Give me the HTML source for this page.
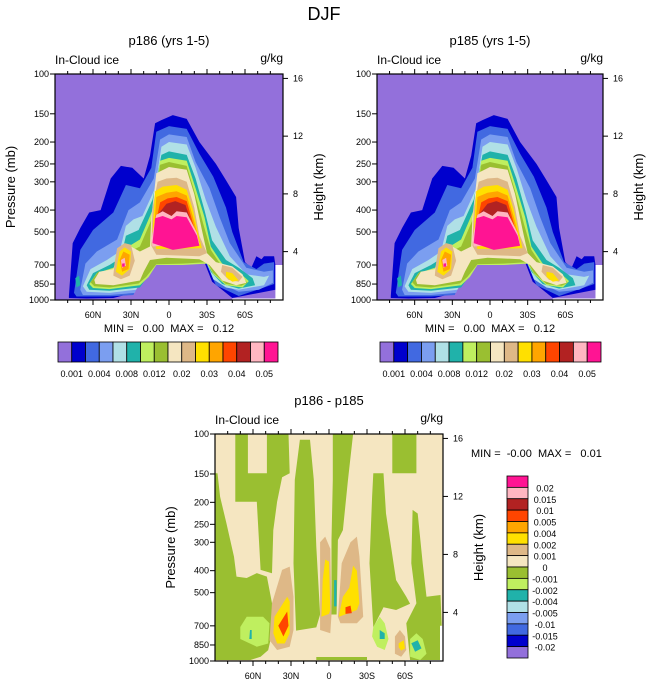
<!DOCTYPE html>
<html><head><meta charset="utf-8"><style>
html,body{margin:0;padding:0;background:#fff}
svg{display:block;font-family:"Liberation Sans",sans-serif}
.pre{white-space:pre}
</style></head><body>
<svg id="fig" width="648" height="685" viewBox="0 0 648 685" xmlns="http://www.w3.org/2000/svg">
<text x="324" y="20" font-size="18" text-anchor="middle">DJF</text>
</svg>
<script>
// ---------- data ----------
const pressureTicks = [100,150,200,250,300,400,500,700,850,1000];
const latTicks = [60,30,0,-30,-60];
const latTickLabels = ['60N','30N','0','30S','60S'];
const heightTicks = [4,8,12,16];
const meanLevels = ['0.001','0.002','0.004','0.006','0.008','0.01','0.012','0.015','0.02','0.025','0.03','0.035','0.04','0.045','0.05'];
const meanColors = ['#9370DB','#0000CD','#4169E1','#7B9EF0','#B0E0E6','#20B2AA','#BFEF5F','#9ABF31','#F5E6C1','#DEB887','#FFE000','#FFA500','#FF4500','#B22222','#FFB6C1','#FF1493'];
const diffLabels = ['0.02','0.015','0.01','0.005','0.004','0.002','0.001','0','-0.001','-0.002','-0.004','-0.005','-0.01','-0.015','-0.02'];
const diffColors = ['#FF1493','#FFB6C1','#B22222','#FF4500','#FFA500','#FFE000','#DEB887','#F5E6C1','#9ABF31','#BFEF5F','#20B2AA','#B0E0E6','#7B9EF0','#4169E1','#0000CD','#9370DB'];

// mean-field contour polygons [lat, pressure], index = colour index
const L1 = [[79,980],[79,960],[76,560],[70,480],[63,410],[54,400],[46,290],[38,255],[29,260],[20,290],[15,230],[11,165],[6,160],[-3,152],[-14,158],[-24,200],[-37,250],[-45,295],[-53,350],[-55,480],[-60,680],[-65,720],[-69,640],[-73,660],[-75,640],[-83,640],[-84,700],[-84,900],[-50,980],[-34,830],[-27,660],[-11,650],[10,650],[18,720],[28,930],[44,980],[65,985]];
const L2 = [[75,930],[70,600],[60,490],[44,410],[34,310],[23,320],[14,260],[10,180],[0,170],[-14,175],[-24,225],[-35,285],[-45,390],[-50,500],[-59,680],[-69,730],[-75,690],[-83,680],[-83,850],[-75,880],[-55,960],[-37,860],[-29,680],[-11,665],[10,665],[21,740],[28,950],[47,965],[73,965]];
const L3 = [[70,900],[66,690],[57,610],[41,540],[32,400],[23,370],[12,290],[7,195],[0,185],[-14,190],[-21,245],[-32,320],[-40,430],[-48,560],[-61,720],[-75,750],[-82,740],[-82,840],[-71,900],[-55,920],[-40,840],[-30,690],[-11,680],[10,680],[20,750],[27,930],[47,950],[68,950]];
const L4 = [[68,870],[62,730],[49,665],[39,610],[34,470],[28,440],[21,425],[11,320],[6,210],[0,200],[-14,205],[-21,260],[-29,360],[-37,475],[-48,640],[-61,770],[-75,790],[-79,780],[-75,860],[-55,900],[-45,880],[-35,810],[-30,690],[-11,685],[10,685],[18,760],[26,900],[47,930],[65,920]];
const L5 = [[65,860],[60,760],[47,700],[38,650],[34,520],[24,490],[13,360],[6,228],[0,220],[-14,228],[-21,290],[-28,400],[-34,545],[-45,665],[-55,720],[-66,800],[-68,860],[-55,890],[-42,850],[-33,750],[-30,680],[-11,690],[10,690],[16,775],[23,880],[47,910],[63,900]];
const L6 = [[63,850],[57,760],[44,720],[36,670],[32,580],[23,540],[13,400],[7,242],[0,235],[-14,242],[-21,320],[-28,430],[-33,580],[-42,690],[-55,750],[-63,825],[-58,880],[-45,860],[-35,770],[-30,690],[-11,700],[10,700],[16,790],[23,860],[47,895],[60,885]];
const L7 = [[62,835],[56,750],[43,735],[35,690],[31,610],[23,580],[13,430],[7,252],[0,245],[-14,255],[-21,345],[-27,460],[-33,600],[-41,700],[-55,765],[-62,840],[-57,865],[-45,850],[-35,760],[-30,680],[-11,690],[10,695],[18,790],[24,845],[47,880],[59,870]];
const L8 = [[59,815],[55,750],[44,730],[42,670],[35,590],[30,580],[23,610],[15,580],[14,430],[10,275],[0,258],[-14,265],[-20,340],[-26,490],[-30,620],[-37,680],[-50,710],[-58,770],[-61,840],[-53,860],[-42,820],[-32,700],[-24,660],[2,650],[15,665],[20,750],[23,820],[44,860],[58,850]];
const L9a = [[14,575],[13,390],[9,300],[2,290],[-6,288],[-14,300],[-20,390],[-24,520],[-30,620],[-24,640],[10,630]];
const L9b = [[43,690],[41,590],[35,560],[30,570],[27,670],[31,780],[38,810],[44,780]];
const L9c = [[-42,700],[-50,720],[-58,790],[-55,830],[-47,815],[-41,750]];
const L10a = [[13,500],[11,330],[5,315],[-6,310],[-14,325],[-19,400],[-23,505],[-26,590],[10,595]];
const L10b = [[39,610],[35,585],[30,610],[31,730],[37,780],[42,750]];
const L10c = [[-45,750],[-50,760],[-55,820],[-50,830],[-45,790]];
const L11a = [[12,515],[10,350],[2,335],[-6,330],[-14,345],[-19,430],[-24,555],[10,580]];
const L11b = [[39,665],[36,610],[31,630],[32,730],[37,750]];
const L12a = [[10,445],[7,370],[1,355],[-6,350],[-14,365],[-19,460],[-22,530],[10,520]];
const L13a = [[9,420],[2,375],[-5,365],[-13,380],[-18,460],[-22,520],[10,500]];
const L14a = [[14,540],[10,420],[5,405],[-2,425],[-6,405],[-14,410],[-22,505],[-24,565],[13,580]];
const L14b = [[38,665],[35,650],[34,705],[37,720]];
const L15a = [[13,560],[11,435],[5,425],[-2,440],[-6,425],[-14,430],[-22,520],[-24,575],[-3,600]];
const L15b = [[37,690],[35,688],[35,712],[37,712]];
const meanShapes = [[1,L1],[2,L2],[3,L3],[4,L4],[5,L5],[6,L6],[7,L7],[8,L8],[9,L9a],[9,L9b],[9,L9c],[10,L10a],[10,L10b],[10,L10c],[11,L11a],[11,L11b],[12,L12a],[13,L13a],[14,L14a],[14,L14b],[15,L15a],[15,L15b]];
const blobL4 = [[74,800],[71,780],[70,860],[73,880]];
const meanMissing = [[-84,700],[-90,700],[-90,1000],[-50,1000],[-50,985],[-84,985]];

// difference field polygons (colour index in diffColors)
const dA = [[88,149],[86,189],[81,247],[75,347],[73,425],[65,431],[57,410],[49,425],[45,557],[45,755],[48,895],[54,957],[62,990],[90,990],[90,149]];
const dC = [[74,100],[64,100],[64,149],[49,149],[49,100],[32,100],[31,149],[37,155],[41,199],[44,265],[45,411],[54,397],[57,199],[74,199]];
const dD = [[23,106],[15,106],[12,159],[10,313],[7,624],[10,711],[26,735],[28,371],[27,159]];
const dE = [[-3,100],[-19,100],[-15,159],[-11,265],[-7,293],[-6,624],[-2,624],[-2,293],[-3,159]];
const dF = [[-35,149],[-43,149],[-45,224],[-53,440],[-61,521],[-64,560],[-53,596],[-43,580],[-35,711],[-32,371],[-34,189]];
const dG = [[-50,100],[-69,100],[-69,149],[-50,149]];
const dH = [[-66,216],[-70,224],[-74,371],[-77,521],[-88,512],[-90,990],[-64,990],[-61,682],[-69,557],[-65,371]];
const dBot = [[10,960],[-30,960],[-30,990],[10,990]];
const dTanL = [[45,557],[37,397],[31,384],[28,521],[28,730],[31,865],[41,894],[47,810]];
const dGoldL = [[43,638],[33,521],[31,547],[31,755],[35,837],[41,837],[44,755]];
const dOrL = [[40,700],[33,605],[32,700],[36,780]];
const dTanC1 = [[7,730],[7,300],[3,283],[-1,320],[-2,624],[-1,755]];
const dGoldC1 = [[6,638],[5,440],[3,357],[0,365],[-1,596],[0,620]];
const dTealC = [[-4,440],[-6,440],[-6,575],[-4,575]];
const dTanC2 = [[-7,638],[-10,371],[-17,300],[-22,283],[-24,345],[-27,638],[-22,682],[-9,682]];
const dGoldC2 = [[-8,624],[-11,521],[-16,475],[-19,380],[-22,400],[-24,557],[-22,596],[-8,638]];
const dOrC = [[-13,580],[-17,570],[-18,615],[-13,620]];
const dLgL = [[70,708],[65,638],[52,638],[47,682],[48,837],[57,865],[70,800]];
const dTealL = [[62.4,730],[61,730],[61,800],[62.9,800]];
const dLg40 = [[-35,708],[-40,638],[-44,682],[-47,800],[-44,894],[-38,865],[-34,780]];
const dTeal40 = [[-40,730],[-44,755],[-44,800],[-40,800]];
const dTan57 = [[-52,780],[-56,730],[-60,780],[-61,894],[-57,957],[-52,930]];
const dGold57 = [[-55,836],[-59,810],[-60,880],[-57,900],[-55,870]];
const dLg67 = [[-64,800],[-69,755],[-74,800],[-77,930],[-72,990],[-64,957]];
const dTeal67 = [[-65,836],[-70,810],[-73,880],[-68,910]];
const diffShapes = [[8,dA],[8,dC],[8,dD],[8,dE],[8,dF],[8,dG],[8,dH],[8,dBot],[6,dTanL],[5,dGoldL],[3,dOrL],[6,dTanC1],[5,dGoldC1],[10,dTealC],[6,dTanC2],[5,dGoldC2],[3,dOrC],[9,dLgL],[10,dTealL],[9,dLg40],[10,dTeal40],[6,dTan57],[5,dGold57],[9,dLg67],[10,dTeal67]];
const diffMissing = [[-87.6,700],[-90,700],[-90,1000],[-60,1000],[-60,990],[-87.6,990]];

// ---------- drawing ----------
const NS='http://www.w3.org/2000/svg';
const svg=document.getElementById('fig');
function el(tag,attrs,parent,txt){const e=document.createElementNS(NS,tag);for(const k in attrs)e.setAttribute(k,attrs[k]);if(txt!==undefined)e.textContent=txt;(parent||svg).appendChild(e);return e;}
function makeAxes(x0,x1,y0,y1){
  return {x:lat=>x0+(90-lat)/180*(x1-x0), y:p=>y0+Math.log10(p/100)*(y1-y0), x0,x1,y0,y1};
}
function pts(ax,poly){return poly.map(q=>ax.x(q[0]).toFixed(1)+','+ax.y(q[1]).toFixed(1)).join(' ');}
function zToP(z){return 1100*Math.exp(-z/6.8);}

function drawPanel(ax,title,bg,shapes,colors,missing,extra,showP){
  const g=el('g',{});
  
  
  const cx=(ax.x0+ax.x1)/2, w=ax.x1-ax.x0, h=ax.y1-ax.y0;
  const clip='clip'+Math.round(ax.x0)+Math.round(ax.y0);
  const cp=el('clipPath',{id:clip},g);el('rect',{x:ax.x0,y:ax.y0,width:w,height:h},cp);
  const plot=el('g',{'clip-path':'url(#'+clip+')'},g);
  
  
  const bgr=el('rect',{x:ax.x0,y:ax.y0,width:w,height:h,fill:bg},plot);
  
  
  shapes.forEach(s=>{
    const pg=el('polygon',{points:pts(ax,s[1]),fill:colors[s[0]]},plot);
    
    
  });
  if(extra) extra.forEach(s=>{
    const pg=el('polygon',{points:pts(ax,s[1]),fill:colors[s[0]]},plot);
    
    
  });
  const ms=el('polygon',{points:pts(ax,missing),fill:'#fff'},plot);
  
  
  const fr=el('rect',{x:ax.x0,y:ax.y0,width:w,height:h,fill:'none',stroke:'#000','stroke-width':1.2},g);
  
  
  pressureTicks.forEach(p=>{
    const y=ax.y(p);
    el('line',{x1:ax.x0-5,x2:ax.x0,y1:y,y2:y,stroke:'#000'},g);
    const t=el('text',{x:ax.x0-6,y:y+3,'font-size':9,'text-anchor':'end'},g,String(p));
    
    
  });
  for(let lat=80;lat>=-80;lat-=10){
    const x=ax.x(lat);const major=lat%30===0;
    el('line',{x1:x,x2:x,y1:ax.y1,y2:ax.y1+(major?5:3),stroke:'#000'},g);
    el('line',{x1:x,x2:x,y1:ax.y0,y2:ax.y0-(major?5:3),stroke:'#000'},g);
  }
  latTicks.forEach((lat,i)=>{
    const t=el('text',{x:ax.x(lat),y:ax.y1+18,'font-size':9,'text-anchor':'middle'},g,latTickLabels[i]);
    
    
  });
  heightTicks.forEach(z=>{
    const y=ax.y(zToP(z));
    el('line',{x1:ax.x1,x2:ax.x1+5,y1:y,y2:y,stroke:'#000'},g);
    const t=el('text',{x:ax.x1+10,y:y+3,'font-size':9},g,String(z));
    
    
  });
  const yc=(ax.y0+ax.y1)/2;
  if(showP){
    const pl=el('text',{x:0,y:0,'font-size':13,'text-anchor':'middle',transform:`translate(${ax.x0-40},${yc}) rotate(-90)`},g,'Pressure (mb)');
    
    
  }
  const hl=el('text',{x:0,y:0,'font-size':13,'text-anchor':'middle',transform:`translate(${ax.x1+40},${yc}) rotate(-90)`},g,'Height (km)');
  
  
  const tt=el('text',{x:cx,y:ax.y0-29,'font-size':13,'text-anchor':'middle'},g,title);
  
  
  const lt=el('text',{x:ax.x0,y:ax.y0-10,'font-size':12},g,'In-Cloud ice');
  
  
  const ut=el('text',{x:ax.x1,y:ax.y0-12,'font-size':12,'text-anchor':'end'},g,'g/kg');
  
  
  return g;
}
function hColorbar(x0,x1,y0,y1,colors,labels,name){
  const g=el('g',{});
  
  
  const n=colors.length, bw=(x1-x0)/n;
  colors.forEach((c,i)=>{
    const r=el('rect',{x:x0+i*bw,y:y0,width:bw,height:y1-y0,fill:c,stroke:'#000','stroke-width':0.8},g);
    
    
  });
  labels.forEach((l,i)=>{
    if(i%2) return;
    const t=el('text',{x:x0+(i+1)*bw,y:y1+15,'font-size':9,'text-anchor':'middle'},g,l);
    
    
  });
}
const axL=makeAxes(55,283,74,300), axR=makeAxes(377,603,74,300), axB=makeAxes(215,443,434,661);
drawPanel(axL,'p186 (yrs 1-5)',meanColors[0],meanShapes,meanColors,meanMissing,[[5,blobL4]],true);
drawPanel(axR,'p185 (yrs 1-5)',meanColors[0],meanShapes,meanColors,meanMissing,[[5,blobL4]],false);
drawPanel(axB,'p186 - p185',diffColors[7],diffShapes,diffColors,diffMissing,null,true);
[[axL,'0.00','0.12'],[axR,'0.00','0.12']].forEach(a=>{
  const t=el('text',{x:(a[0].x0+a[0].x1)/2,y:332,'font-size':11,'text-anchor':'middle','class':'pre'},svg,`MIN =   ${a[1]}  MAX =   ${a[2]}`);
  
  
});
const mm=el('text',{x:471,y:457,'font-size':11,'class':'pre'},svg,'MIN =  -0.00  MAX =   0.01');


hColorbar(58,278,342,362,meanColors,meanLevels,'colorbar-left');
hColorbar(380,601,342,362,meanColors,meanLevels,'colorbar-right');
(function(){
  const g=el('g',{});
  
  
  const x0=507,x1=528,y0=476,y1=658,n=diffColors.length,bh=(y1-y0)/n;
  diffColors.forEach((c,i)=>{
    const r=el('rect',{x:x0,y:y0+i*bh,width:x1-x0,height:bh,fill:c,stroke:'#000','stroke-width':0.8},g);
    
    
  });
  diffLabels.forEach((l,i)=>{
    const t=el('text',{x:545,y:y0+(i+1)*bh+4,'font-size':9,'text-anchor':'middle'},g,l);
    
    
  });
})();
</script>
</body></html>
